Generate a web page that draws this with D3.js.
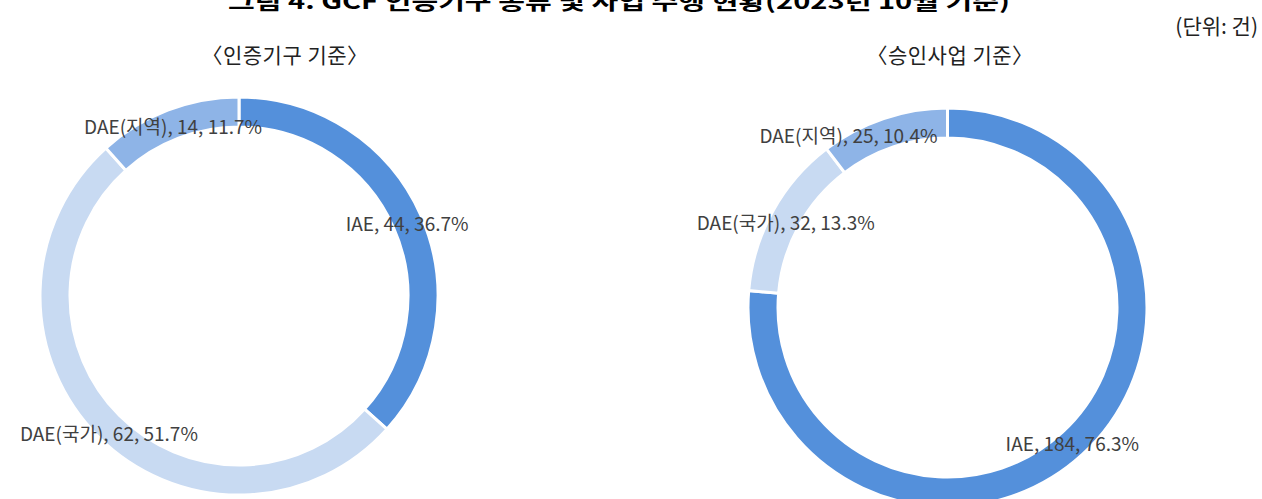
<!DOCTYPE html>
<html><head><meta charset="utf-8">
<script src="https://cdn.jsdelivr.net/npm/d3@7/dist/d3.min.js"></script>
<style>body{margin:0;background:#fff;}svg{display:block;}</style>
</head><body><svg id="c" width="1262" height="499"></svg>
<script>
const titleText = "그림 4. GCF 인증기구 종류 및 사업 수행 현황(2023년 10월 기준)";
const unitText = "(단위: 건)";
const chartTitles = ["〈인증기구 기준〉", "〈승인사업 기준〉"];
const categories = ["IAE", "DAE(국가)", "DAE(지역)"];
const valuesEntities = [44, 62, 14];
const valuesProjects = [184, 32, 25];
const percentEntities = ["36.7%", "51.7%", "11.7%"];
const percentProjects = ["76.3%", "13.3%", "10.4%"];
const colors = ["#5490DB", "#C8DAF2", "#8EB4E7"];

// layout (not data)
const layouts = [
  {cx: 239, cy: 296, r: 199, titleX: 285, labelShift: [[0,1],[0,6],[0,1]]},
  {cx: 947.5, cy: 307.5, r: 199.5, titleX: 950, labelShift: [[0,-1],[0,3],[-40,2]]}
];
const series = [
  {values: valuesEntities, pct: percentEntities},
  {values: valuesProjects, pct: percentProjects}
];

const svg = d3.select("#c");
const font = "'Noto Sans CJK KR', 'Noto Sans', sans-serif";

svg.append("text").attr("x", 619).attr("y", 9).attr("text-anchor", "middle")
  .attr("font-family", font).attr("font-weight", "bold").attr("font-size", 21)
  .attr("textLength", 782).attr("lengthAdjust", "spacingAndGlyphs")
  .attr("fill", "#000").text(titleText);

svg.append("text").attr("x", 1258).attr("y", 34).attr("text-anchor", "end")
  .attr("font-family", font).attr("font-size", 21).attr("fill", "#222").text(unitText);

const pie = d3.pie().sort(null).value(d => d);

series.forEach((s, i) => {
  const L = layouts[i];
  const g = svg.append("g").attr("transform", `translate(${L.cx},${L.cy})`);
  const arc = d3.arc().innerRadius(L.r - 30).outerRadius(L.r);
  const labelArc = d3.arc().innerRadius(L.r - 15).outerRadius(L.r - 15);
  const arcs = pie(s.values);
  g.selectAll("path").data(arcs).join("path")
    .attr("d", arc).attr("fill", (d, j) => colors[j])
    .attr("stroke", "#fff").attr("stroke-width", 3);
  g.selectAll("text.lbl").data(arcs).join("text").attr("class", "lbl")
    .attr("transform", (d, j) => {
      const c = labelArc.centroid(d);
      return `translate(${c[0] + L.labelShift[j][0]},${c[1] + L.labelShift[j][1]})`;
    })
    .attr("text-anchor", "middle").attr("dominant-baseline", "central")
    .attr("font-family", font).attr("font-size", 19).attr("fill", "#404040")
    .text((d, j) => `${categories[j]}, ${s.values[j]}, ${s.pct[j]}`);
  svg.append("text").attr("x", L.titleX).attr("y", 63).attr("text-anchor", "middle")
    .attr("font-family", font).attr("font-size", 21).attr("fill", "#222")
    .attr("letter-spacing", 0.5)
    .text(chartTitles[i]);
});
</script></body></html>
